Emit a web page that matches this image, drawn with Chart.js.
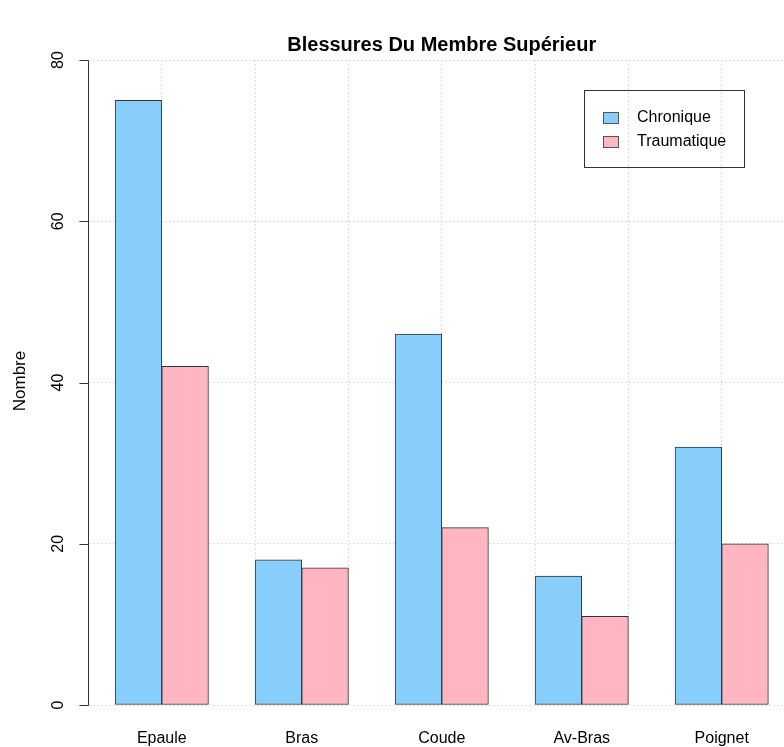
<!DOCTYPE html>
<html>
<head>
<meta charset="utf-8">
<script src="https://cdn.jsdelivr.net/npm/chart.js@4"></script>
<style>
    html, body { margin: 0; padding: 0; background: #fff; }
    #wrap { width: 784px; height: 747px; position: relative; }
</style>
</head>
<body>
<div id="wrap"><canvas id="chart"></canvas></div>
<script>
// données
const titre = 'Blessures Du Membre Supérieur';
const categories = ['Epaule', 'Bras', 'Coude', 'Av-Bras', 'Poignet'];
const chronique = [75, 18, 46, 16, 32];
const traumatique = [42, 17, 22, 11, 20];
const yTicks = [0, 20, 40, 60, 80];
const xGrid = [2, 4, 6, 8, 10, 12, 14];

const FONT = '"Liberation Sans", Arial, Helvetica, sans-serif';

// position des groupes comme dans barplot(beside=TRUE) : 2 barres + 1 espace
const centre = i => 2 + 3 * i;

// axes, titre et légende dessinés à la façon de R
const rStyle = {
    id: 'rStyle',
    afterDraw(chart) {
        const { ctx, chartArea, scales: { x, y } } = chart;
        ctx.save();
        ctx.fillStyle = '#000';
        ctx.strokeStyle = '#333';
        ctx.lineWidth = 1;

        // titre
        ctx.font = 'bold 20px ' + FONT;
        ctx.textAlign = 'center';
        ctx.textBaseline = 'middle';
        ctx.fillText(titre, x.getPixelForValue(8), 45);

        // axe y
        const ax = Math.round(chartArea.left) - 0.5;
        const yTop = y.getPixelForValue(yTicks[yTicks.length - 1]);
        const yBot = y.getPixelForValue(yTicks[0]);
        ctx.beginPath();
        ctx.moveTo(ax, Math.round(yTop) + 0.5);
        ctx.lineTo(ax, Math.round(yBot) + 0.5);
        yTicks.forEach(v => {
            const py = Math.round(y.getPixelForValue(v)) + 0.5;
            ctx.moveTo(ax, py);
            ctx.lineTo(ax - 9, py);
        });
        ctx.stroke();

        ctx.font = '16px ' + FONT;
        yTicks.forEach(v => {
            ctx.save();
            ctx.translate(59, y.getPixelForValue(v));
            ctx.rotate(-Math.PI / 2);
            ctx.fillText(String(v), 0, 0);
            ctx.restore();
        });

        // titre axe y
        ctx.save();
        ctx.font = '17px ' + FONT;
        ctx.translate(20, 381);
        ctx.rotate(-Math.PI / 2);
        ctx.fillText('Nombre', 0, 0);
        ctx.restore();

        // noms des catégories
        ctx.font = '16px ' + FONT;
        categories.forEach((c, i) => {
            ctx.fillText(c, x.getPixelForValue(centre(i)), 739);
        });

        // légende
        ctx.strokeStyle = '#333';
        ctx.strokeRect(584.5, 90.5, 160, 77);
        ctx.textAlign = 'left';
        chart.data.datasets.forEach((ds, i) => {
            const ly = 118 + i * 24;
            ctx.fillStyle = ds.backgroundColor;
            ctx.fillRect(603, ly - 6, 16, 12);
            ctx.strokeStyle = '#555';
            ctx.strokeRect(603.5, ly - 5.5, 15, 11);
            ctx.fillStyle = '#000';
            ctx.fillText(ds.label, 637, ly);
        });

        ctx.restore();
    }
};

new Chart(document.getElementById('chart'), {
    type: 'bar',
    data: {
        datasets: [{
            label: 'Chronique',
            data: chronique.map((v, i) => ({ x: centre(i), y: v })),
            backgroundColor: '#87CEFA'
        }, {
            label: 'Traumatique',
            data: traumatique.map((v, i) => ({ x: centre(i), y: v })),
            backgroundColor: '#FFB6C1'
        }]
    },
    options: {
        responsive: true,
        maintainAspectRatio: false,
        animation: false,
        layout: { padding: { left: 89, top: 60, right: 0, bottom: 42 } },
        datasets: {
            bar: {
                categoryPercentage: 1,
                barPercentage: 1,
                borderWidth: 1,
                borderColor: '#333',
                borderSkipped: false
            }
        },
        plugins: {
            legend: { display: false },
            tooltip: { enabled: false },
            title: { display: false }
        },
        scales: {
            x: {
                type: 'linear',
                offset: false,
                min: 0.44,
                max: 15.335,
                afterBuildTicks: s => { s.ticks = xGrid.map(v => ({ value: v })); },
                ticks: { display: false },
                grid: { color: '#e0e0e0', drawTicks: false, offset: false },
                border: { display: false, dash: [2, 2] }
            },
            y: {
                min: 0,
                max: 80,
                afterBuildTicks: s => { s.ticks = yTicks.map(v => ({ value: v })); },
                ticks: { display: false },
                grid: { color: '#e0e0e0', drawTicks: false },
                border: { display: false, dash: [2, 2] }
            }
        }
    },
    plugins: [rStyle]
});
</script>
</body>
</html>
